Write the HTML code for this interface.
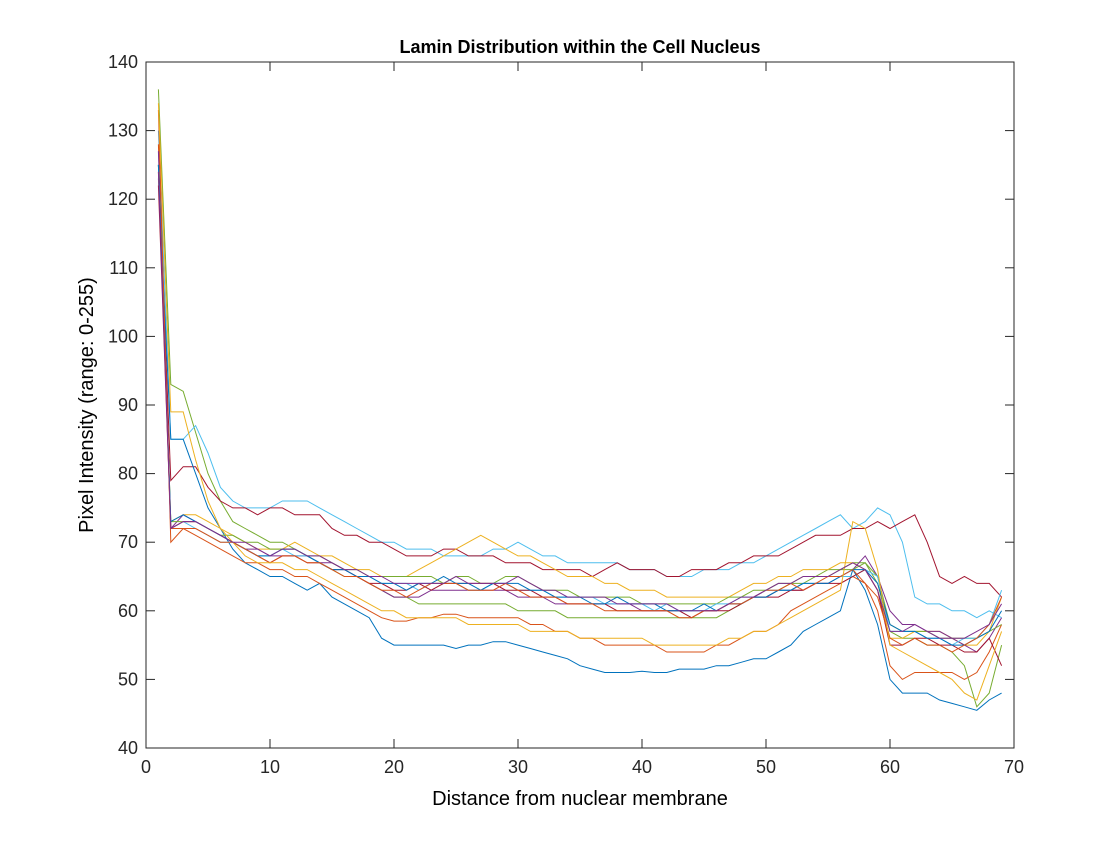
<!DOCTYPE html>
<html><head><meta charset="utf-8"><style>
body{margin:0;background:#fff;}
svg text{font-family:"Liberation Sans",Arial,sans-serif;}
</style></head><body>
<svg id="chart" width="1120" height="840" xmlns="http://www.w3.org/2000/svg">
<rect width="1120" height="840" fill="#fff"/>
<text x="580" y="53" font-size="18" font-weight="bold" text-anchor="middle">Lamin Distribution within the Cell Nucleus</text>
<text x="580" y="805" font-size="20" text-anchor="middle">Distance from nuclear membrane</text>
<text x="0" y="0" font-size="20" text-anchor="middle" transform="translate(93,405) rotate(-90)">Pixel Intensity (range: 0-255)</text>
<g id="lines"></g>
<g id="axes"></g>
</svg>
<script>
const xTicks=[0,10,20,30,40,50,60,70];
const yTicks=[40,50,60,70,80,90,100,110,120,130,140];
const s1=[125,73,74,73,72,71,70,69,68,68,69,69,68,67,66,66,65,65,64,64,63,64,64,65,64,64,63,64,64,64,63,63,62,62,62,61,61,62,61,61,61,60,60,60,61,60,61,61,62,62,63,63,64,64,64,65,66,66,64,58,57,57,56,56,55,55,56,57,60];
const s2=[133,70,72,72,71,70,70,69,68,67,68,68,67,67,66,65,65,64,63,63,62,63,64,64,64,63,63,63,64,63,62,62,62,61,61,61,60,60,60,60,60,60,59,59,60,60,61,61,62,63,63,64,63,64,65,65,66,64,62,56,55,56,55,55,54,55,56,58,62];
const s3=[134,89,89,82,76,72,70,68,67,67,67,66,66,65,64,63,62,61,60,60,59,59,59,59,59,58,58,58,58,58,57,57,57,57,56,56,56,56,56,56,55,55,55,55,55,55,56,56,57,57,58,59,60,61,62,63,73,72,66,55,54,53,52,51,50,48,47,52,57];
const s4=[124,72,73,73,72,71,70,70,69,68,69,69,68,68,67,66,66,65,65,64,64,64,64,64,65,64,64,64,64,65,64,63,63,62,62,62,62,61,61,61,61,61,60,60,60,60,61,62,62,63,64,64,65,65,65,66,67,66,63,57,57,58,57,56,56,56,57,58,61];
const s5=[136,93,92,86,80,76,73,72,71,70,70,69,68,67,66,65,65,64,63,62,62,61,61,61,61,61,61,61,61,60,60,60,60,59,59,59,59,59,59,59,59,59,59,59,59,59,60,61,62,62,63,64,65,65,66,66,67,67,64,57,56,56,55,55,54,52,46,48,55];
const s6=[130,85,85,87,83,78,76,75,75,75,76,76,76,75,74,73,72,71,70,70,69,69,69,68,68,68,68,69,69,70,69,68,68,67,67,67,67,67,66,66,66,65,65,65,66,66,66,67,67,68,69,70,71,72,73,74,72,73,75,74,70,62,61,61,60,60,59,60,59];
const s7=[125,79,81,81,78,76,75,75,74,75,75,74,74,74,72,71,71,70,70,69,68,68,68,69,69,68,68,68,67,67,67,66,66,66,66,65,66,67,66,66,66,65,65,66,66,66,67,67,68,68,68,69,70,71,71,71,72,72,73,72,73,74,70,65,64,65,64,64,62];
const s8=[123,85,85,80,75,72,69,67,66,65,65,64,63,64,62,61,60,59,56,55,55,55,55,55,54.5,55,55,55.5,55.5,55,54.5,54,53.5,53,52,51.5,51,51,51,51.2,51,51,51.5,51.5,51.5,52,52,52.5,53,53,54,55,57,58,59,60,66,63,58,50,48,48,48,47,46.5,46,45.5,47,48];
const s9=[128,72,72,71,70,69,68,67,67,66,66,65,65,64,63,62,61,60,59,58.5,58.5,59,59,59.5,59.5,59,59,59,59,59,58,58,57,57,56,56,55,55,55,55,55,54,54,54,54,55,55,56,57,57,58,60,61,62,63,64,65,64,60,52,50,51,51,51,51,50,51,54,58];
const s10=[124,73,74,74,73,72,71,70,69,69,69,70,69,68,68,67,66,66,65,65,65,66,67,68,69,70,71,70,69,68,68,67,66,65,65,65,64,64,63,63,63,62,62,62,62,62,62,63,64,64,65,65,66,66,66,67,67,66,63,56,56,57,57,57,56,55,55,57,62];
const s11=[127,72,74,73,72,71,70,69,69,68,68,68,68,67,67,66,65,64,63,62,62,62,63,63,63,63,63,63,63,62,62,62,61,61,61,61,61,61,61,60,60,60,60,60,60,60,61,61,62,62,63,63,63,64,64,65,66,68,65,60,58,58,57,57,56,55,54,56,59];
const s12=[125,73,73,73,72,71,71,70,70,69,69,69,68,68,67,66,66,65,65,65,65,65,65,64,65,65,64,64,65,65,64,63,63,63,62,62,62,62,62,61,61,61,61,61,61,61,62,62,63,63,64,64,64,65,65,66,66,67,65,58,57,57,57,56,56,56,56,57,58];
const s13=[125,72,73,72,71,70,70,69,68,68,69,68,68,67,66,66,65,65,64,64,64,63,64,64,64,63,63,64,64,63,63,63,62,62,62,62,61,61,61,61,60,61,60,60,60,61,61,62,62,63,63,63,64,64,64,65,65,66,65,57,57,57,56,56,55,56,56,58,63];
const s14=[122,72,73,73,72,71,70,69,68,67,68,68,67,67,66,66,65,64,64,63,63,64,63,64,64,64,64,64,63,63,63,62,62,61,61,61,61,60,60,60,60,60,60,59,60,60,60,61,62,62,62,63,63,64,64,64,65,66,63,55,55,56,56,55,55,54,54,56,52];
const series=[s1,s2,s3,s4,s5,s6,s7,s8,s9,s10,s11,s12,s13,s14];
const colors=["#0072BD","#D95319","#EDB120","#7E2F8E","#77AC30","#4DBEEE","#A2142F"];
const L=146,R=1014,T=62,B=748;
const xs=v=>L+(v-0)/70*(R-L);
const ys=v=>B-(v-40)/100*(B-T);
const NS="http://www.w3.org/2000/svg";
const lines=document.getElementById('lines');
const order=[4,5,6,7,8,9,10,11,12,13,0,1,2,3];
order.forEach(i=>{
  const d=series[i];
  const p=document.createElementNS(NS,'polyline');
  p.setAttribute('points',d.map((v,j)=>xs(j+1).toFixed(1)+','+ys(v).toFixed(1)).join(' '));
  p.setAttribute('fill','none');
  p.setAttribute('stroke',colors[i%7]);
  p.setAttribute('stroke-width','1');
  
  
  lines.appendChild(p);
});
const ax=document.getElementById('axes');
function mk(tag,attrs){const e=document.createElementNS(NS,tag);for(const k in attrs)e.setAttribute(k,attrs[k]);ax.appendChild(e);return e;}
const box=mk('rect',{x:L,y:T,width:R-L,height:B-T,fill:'none',stroke:'#262626','stroke-width':1});


xTicks.forEach(t=>{
  const x=xs(t);
  mk('line',{x1:x,x2:x,y1:B,y2:B-9,stroke:'#262626'});
  mk('line',{x1:x,x2:x,y1:T,y2:T+9,stroke:'#262626'});
  const tx=mk('text',{x:x,y:B+25,'font-size':18,'text-anchor':'middle',fill:'#262626'});
  tx.textContent=t;
  
  
});
yTicks.forEach(t=>{
  const y=ys(t);
  mk('line',{x1:L,x2:L+9,y1:y,y2:y,stroke:'#262626'});
  mk('line',{x1:R,x2:R-9,y1:y,y2:y,stroke:'#262626'});
  const tx=mk('text',{x:L-8,y:y+6,'font-size':18,'text-anchor':'end',fill:'#262626'});
  tx.textContent=t;
  
  
});
</script>
</body></html>
